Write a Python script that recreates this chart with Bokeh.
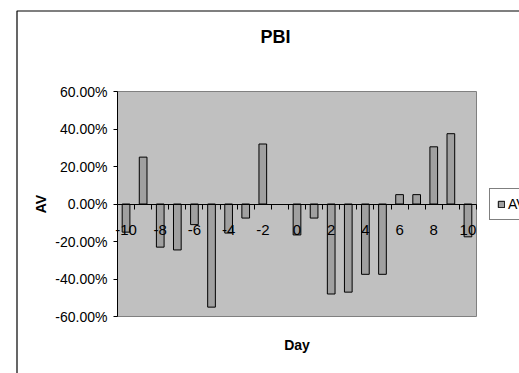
from bokeh.plotting import figure
from bokeh.models import (FixedTicker, NumeralTickFormatter, Label, Legend, LegendItem,
                          BoxAnnotation, ColumnDataSource, Range1d, LinearAxis)
from bokeh.embed import file_html
from bokeh.resources import INLINE

# ---- data ----
days = list(range(-10, 11))
av = [-0.15, 0.25, -0.23, -0.245, -0.11, -0.55, -0.155, -0.075, 0.32, float("nan"),
      -0.165, -0.075, -0.48, -0.47, -0.375, -0.375, 0.05, 0.05, 0.305, 0.375, -0.175]
x_tick_labels = [-10, -8, -6, -4, -2, 0, 2, 4, 6, 8, 10]
y_ticks = [-0.6, -0.4, -0.2, 0.0, 0.2, 0.4, 0.6]
chart_title = "PBI"
x_label = "Day"
y_label = "AV"
series_name = "AV"

FONT = "Liberation Sans"
W, H = 519, 373
# plot-area placement inside the canvas (pixels)
PL, PR, PT, PB = 117, 476, 91, 316

x0, x1 = days[0] - 0.5, days[-1] + 0.5
y0, y1 = y_ticks[0], y_ticks[-1]
sx = (PR - PL) / (x1 - x0)
sy = (PB - PT) / (y1 - y0)

src = ColumnDataSource(dict(day=days, av=av))

p = figure(width=W, height=H, output_backend="svg", toolbar_location=None,
           x_range=Range1d(x0 - PL / sx, x1 + (W - PR) / sx),
           y_range=Range1d(y0 - (H - PB) / sy, y1 + PT / sy),
           x_axis_location=None, y_axis_location=None,
           min_border=0)

p.background_fill_color = "white"
p.border_fill_color = "white"
p.outline_line_color = None
p.xgrid.visible = False
p.ygrid.visible = False

# plot area background
p.add_layout(BoxAnnotation(left=x0, right=x1, bottom=y0, top=y1,
                           fill_color="#c0c0c0", fill_alpha=1,
                           line_color="#808080", line_alpha=1, line_width=1,
                           level="underlay"))
# chart area frame
p.add_layout(BoxAnnotation(left=x0 - (PL - 16.5) / sx, right=x1 + 200 / sx,
                           top=y1 + (PT - 10.5) / sy, bottom=y0 - 200 / sy,
                           fill_alpha=0, line_color="black", line_alpha=1,
                           line_width=1.2, level="overlay"))

r = p.vbar(x="day", top="av", bottom=0, width=0.45, source=src,
           fill_color="#a0a0a0", line_color="black", line_width=1)

boundaries = [d - 0.5 for d in days] + [days[-1] + 0.5]
xa = LinearAxis(fixed_location=0, bounds=(x0, x1))
xa.ticker = FixedTicker(ticks=x_tick_labels, minor_ticks=boundaries)
xa.major_label_overrides = {d: str(d) for d in x_tick_labels}
xa.major_tick_line_color = None
xa.major_tick_out = 0
xa.major_tick_in = 0
xa.minor_tick_line_color = "black"
xa.minor_tick_out = 5
xa.minor_tick_in = 0
xa.axis_line_color = "black"
xa.major_label_text_font = FONT
xa.major_label_text_font_size = "15px"
xa.major_label_text_color = "black"
xa.major_label_standoff = 16
p.add_layout(xa, "below")

ya = LinearAxis(fixed_location=x0, bounds=(y0, y1))
ya.ticker = FixedTicker(ticks=y_ticks)
ya.formatter = NumeralTickFormatter(format="0.00%")
ya.major_tick_out = 4
ya.major_tick_in = 0
ya.minor_tick_line_color = None
ya.axis_line_color = "black"
ya.major_label_text_font = FONT
ya.major_label_text_font_size = "14px"
ya.major_label_text_color = "black"
ya.major_label_standoff = 6
ya.axis_label = y_label
ya.axis_label_text_font = FONT
ya.axis_label_text_font_size = "14px"
ya.axis_label_text_font_style = "bold"
ya.axis_label_text_color = "black"
ya.axis_label_standoff = 3
p.add_layout(ya, "left")

p.add_layout(Label(x=-1.26, y=y1 + 55 / sy, text=chart_title, text_font=FONT,
                   text_font_size="18px", text_font_style="bold",
                   text_align="center", text_baseline="middle", text_color="black"))
p.add_layout(Label(x=(x0 + x1) / 2, y=y0 - 28 / sy, text=x_label, text_font=FONT,
                   text_font_size="14px", text_font_style="bold",
                   text_align="center", text_baseline="middle", text_color="black"))

legend = Legend(items=[LegendItem(label=series_name, renderers=[r])],
                location=(489, H - 220), padding=7, spacing=0, margin=0,
                glyph_width=8, glyph_height=8, label_standoff=3,
                label_height=14, label_text_font=FONT,
                label_text_font_size="14px", label_text_color="black",
                border_line_color="black", border_line_width=1,
                background_fill_color="white", background_fill_alpha=1)
p.add_layout(legend)

open("out.html", "w").write(file_html(p, INLINE))
